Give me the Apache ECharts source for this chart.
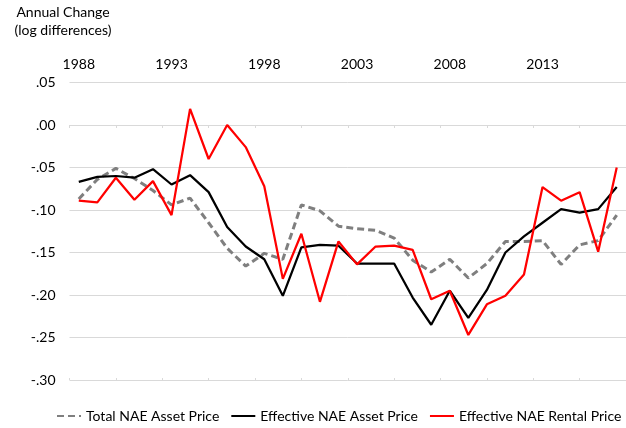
<!DOCTYPE html>
<html>
<head>
<meta charset="utf-8">
<script src="https://cdn.jsdelivr.net/npm/echarts@6/dist/echarts.min.js"></script>
<style>
html,body{margin:0;padding:0;background:#fff;}
#c{width:626px;height:428px;}
</style>
</head>
<body>
<div id="c"></div>
<script>
var years = [];
for (var y = 1988; y <= 2017; y++) years.push(String(y));

var totalAsset = [-0.087,-0.064,-0.051,-0.063,-0.077,-0.094,-0.086,-0.115,-0.145,-0.166,
  -0.151,-0.158,-0.094,-0.101,-0.119,-0.122,-0.124,-0.133,-0.159,-0.173,
  -0.158,-0.180,-0.163,-0.137,-0.137,-0.136,-0.164,-0.141,-0.136,-0.106];
var effAsset = [-0.067,-0.061,-0.060,-0.062,-0.052,-0.070,-0.059,-0.079,-0.120,-0.143,
  -0.158,-0.201,-0.144,-0.141,-0.142,-0.163,-0.163,-0.163,-0.203,-0.235,
  -0.195,-0.227,-0.194,-0.150,-0.131,-0.115,-0.099,-0.103,-0.099,-0.073];
var effRental = [-0.089,-0.091,-0.062,-0.088,-0.066,-0.106,0.019,-0.040,0.000,-0.026,
  -0.072,-0.181,-0.128,-0.208,-0.137,-0.164,-0.143,-0.142,-0.147,-0.205,
  -0.195,-0.247,-0.211,-0.201,-0.176,-0.073,-0.089,-0.079,-0.149,-0.050];

var seriesNames = ['Total NAE Asset Price','Effective NAE Asset Price','Effective NAE Rental Price'];
var titleLines = ['Annual Change','(log differences)'];

var FONT = 'Lato, "Open Sans", sans-serif';
var GRID_C = '#d9d9d9';

function fmt(v){
  var a = Math.abs(v);
  if (a < 1e-9) return '.00';
  var s = a.toFixed(2).replace(/^0/, '');
  return (v < 0 ? '-' : '') + s;
}

var chart = echarts.init(document.getElementById('c'), null, {renderer:'canvas'});
chart.setOption({
  animation: false,
  backgroundColor: '#fff',
  textStyle: {fontFamily: FONT},
  graphic: [{
    type: 'text', x: 63, y: 3,
    style: {text: titleLines.join('\n'), textAlign: 'center', textVerticalAlign: 'top',
      font: '14px ' + FONT, lineHeight: 18, fill: '#000'}
  }],
  grid: {left: 69.5, right: -8.5, top: 82.5, bottom: 48, containLabel: false},
  legend: {
    left: 51, top: 404, width: 620, itemWidth: 24, itemHeight: 14, itemGap: 11,
    itemStyle: {opacity: 0},
    textStyle: {fontSize: 14, color: '#000', fontFamily: FONT},
    data: seriesNames
  },
  xAxis: [{
    type: 'category', data: years, position: 'top',
    axisLine: {show: false, onZero: false},
    axisTick: {show: false},
    axisLabel: {interval: 4, margin: 11, fontSize: 14, color: '#000', fontFamily: FONT},
    splitLine: {show: false}
  }, {
    type: 'value', min: 1987.5, max: 2017.5, interval: 2.5, position: 'bottom',
    axisLine: {show: true, onZero: true, lineStyle: {color: GRID_C, width: 1}},
    axisTick: {show: true, inside: false, length: 3, lineStyle: {color: GRID_C}},
    axisLabel: {show: false}, splitLine: {show: false}
  }, {
    type: 'value', min: 1987.5, max: 2017.5, interval: 2.5, position: 'bottom',
    axisLine: {show: false, onZero: true},
    axisTick: {show: true, inside: true, length: 2, lineStyle: {color: GRID_C}},
    axisLabel: {show: false}, splitLine: {show: false}
  }],
  yAxis: {
    type: 'value', min: -0.30, max: 0.05, interval: 0.05,
    axisLine: {show: false}, axisTick: {show: false},
    axisLabel: {formatter: fmt, margin: 14, fontSize: 14, color: '#000', fontFamily: FONT},
    splitLine: {show: true, lineStyle: {color: GRID_C, width: 1}}
  },
  series: [{
    name: seriesNames[0], type: 'line', data: totalAsset, symbol: 'none', xAxisIndex: 0,
    lineStyle: {color: '#7f7f7f', width: 3, type: [7, 4]}, itemStyle: {color: '#7f7f7f'}
  }, {
    name: seriesNames[1], type: 'line', data: effAsset, symbol: 'none', xAxisIndex: 0,
    lineStyle: {color: '#000000', width: 2.25}, itemStyle: {color: '#000000'}
  }, {
    name: seriesNames[2], type: 'line', data: effRental, symbol: 'none', xAxisIndex: 0,
    lineStyle: {color: '#ff0000', width: 2.25}, itemStyle: {color: '#ff0000'}
  }]
});
</script>
</body>
</html>
